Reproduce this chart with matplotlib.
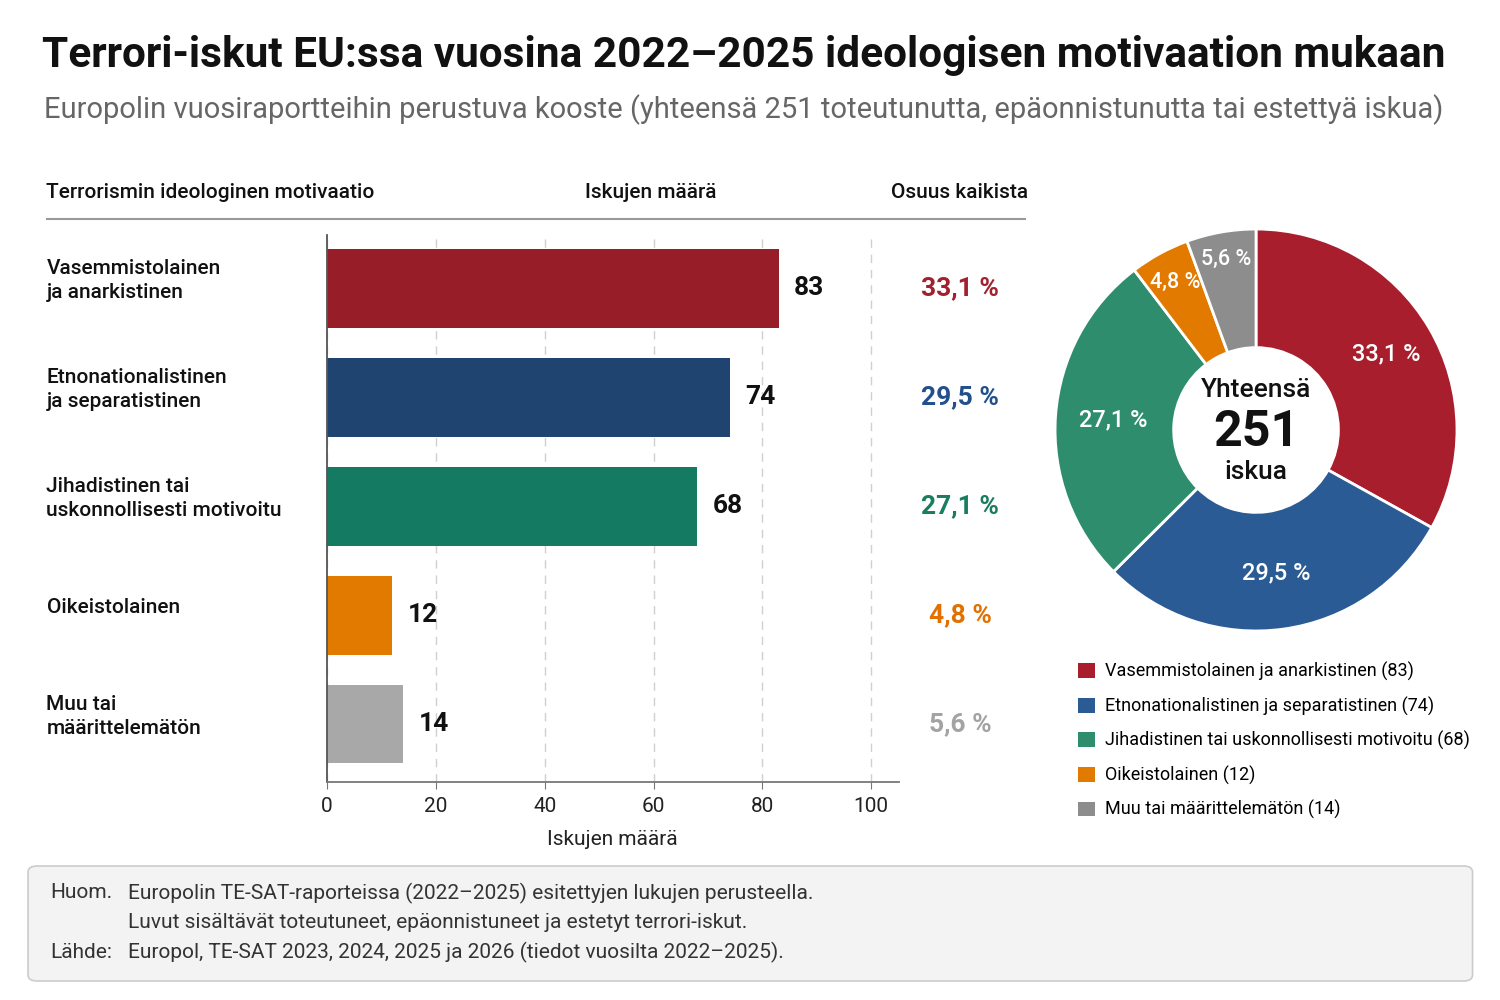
import matplotlib
matplotlib.use('Agg')
import matplotlib.pyplot as plt
import matplotlib.transforms as mtransforms
from matplotlib.patches import FancyBboxPatch, Patch
from matplotlib.lines import Line2D
import numpy as np

plt.rcParams['font.family'] = ['Roboto', 'DejaVu Sans']

# data
categories = ['Vasemmistolainen\nja anarkistinen',
               'Etnonationalistinen\nja separatistinen',
               'Jihadistinen tai\nuskonnollisesti motivoitu',
               'Oikeistolainen',
               'Muu tai\nmäärittelemätön']
legend_names = ['Vasemmistolainen ja anarkistinen',
                'Etnonationalistinen ja separatistinen',
                'Jihadistinen tai uskonnollisesti motivoitu',
                'Oikeistolainen',
                'Muu tai määrittelemätön']
counts = [83, 74, 68, 12, 14]
shares = ['33,1 %', '29,5 %', '27,1 %', '4,8 %', '5,6 %']
total = 251
x_ticks = [0, 20, 40, 60, 80, 100]

bar_colors = ['#971d28', '#1e446f', '#157a62', '#e27a00', '#a8a8a8']
pie_colors = ['#a81e2d', '#2b5b94', '#2e8d6d', '#e27a00', '#8d8d8d']
share_colors = ['#a3202e', '#22508c', '#1a7d5f', '#e27000', '#a3a3a3']

fig = plt.figure(figsize=(15, 10), dpi=100)
fig.patch.set_facecolor('white')

# title + subtitle
fig.text(0.028, 0.944, 'Terrori-iskut EU:ssa vuosina 2022–2025 ideologisen motivaation mukaan',
         fontsize=30.5, fontweight='bold', va='center', ha='left', color='#111111')
fig.text(0.029, 0.890, 'Europolin vuosiraportteihin perustuva kooste (yhteensä 251 toteutunutta, '
         'epäonnistunutta tai estettyä iskua)', fontsize=21, va='center', ha='left', color='#666666')

# header row
fig.text(0.031, 0.807, 'Terrorismin ideologinen motivaatio', fontsize=15, fontweight='medium',
         va='center', color='#111111')
fig.text(0.434, 0.807, 'Iskujen määrä', fontsize=15, fontweight='medium', va='center',
         ha='center', color='#111111')
fig.text(0.640, 0.807, 'Osuus kaikista', fontsize=15, fontweight='medium', va='center',
         ha='center', color='#111111')
fig.add_artist(Line2D([0.031, 0.683], [0.781, 0.781], color='#999999', lw=1.5))

# bar chart
ax = fig.add_axes([0.218, 0.218, 0.381, 0.547])
y = np.arange(len(counts))
ax.barh(y, counts, height=0.72, color=bar_colors)
ax.set_xlim(0, 105)
ax.set_ylim(4.53, -0.49)
ax.set_xticks(x_ticks)
ax.set_yticks([])
ax.tick_params(axis='x', labelsize=15, length=5, color='#777777', labelcolor='#222222', pad=6)
ax.xaxis.grid(True, linestyle=(0, (6, 5)), color='#d0d0d0', lw=1)
ax.set_axisbelow(True)
for s in ['top', 'right']:
    ax.spines[s].set_visible(False)
ax.spines['left'].set_color('#555555')
ax.spines['bottom'].set_color('#777777')
ax.spines['left'].set_linewidth(1.3)
ax.spines['bottom'].set_linewidth(1.3)
ax.set_xlabel('Iskujen määrä', fontsize=15, labelpad=10, color='#222222')

trans = mtransforms.blended_transform_factory(fig.transFigure, ax.transData)
for i, (cat, c, sh, col) in enumerate(zip(categories, counts, shares, share_colors)):
    ax.text(0.031, i - 0.07, cat, transform=trans, fontsize=15, fontweight='medium',
            va='center', ha='left', color='#111111', linespacing=1.35)
    ax.annotate(str(c), (c, i), xytext=(11, 0), textcoords='offset points',
                fontsize=19, fontweight='bold', va='center', ha='left', color='#111111')
    ax.text(0.640, i, sh, transform=trans, fontsize=19, fontweight='bold',
            va='center', ha='center', color=col)

# donut
pax = fig.add_axes([0.7007, 0.365, 0.2733, 0.41])
wedges, _ = pax.pie(counts, colors=pie_colors, startangle=90, counterclock=False,
                    radius=1.0, wedgeprops=dict(width=0.59, edgecolor='white', linewidth=2))
pax.set_xlim(-1.02, 1.02)
pax.set_ylim(-1.02, 1.02)
pax.set_aspect('equal')
label_dist = [0.75, 0.72, 0.71, 0.84, 0.86]
label_size = [17, 17, 17, 15.5, 15.5]
for w, sh, d, fs in zip(wedges, shares, label_dist, label_size):
    ang = np.deg2rad((w.theta1 + w.theta2) / 2)
    pax.text(d * np.cos(ang), d * np.sin(ang), sh, fontsize=fs, fontweight='medium',
             color='white', ha='center', va='center')
pax.text(0, 0.2, 'Yhteensä', fontsize=19, fontweight='medium', ha='center', va='center', color='#111111')
pax.text(0, -0.01, str(total), fontsize=36, fontweight='bold', ha='center', va='center', color='#111111')
pax.text(0, -0.21, 'iskua', fontsize=19, fontweight='medium', ha='center', va='center', color='#111111')

handles = [Patch(facecolor=c, edgecolor='none') for c in pie_colors]
labels = [f'{n} ({c})' for n, c in zip(legend_names, counts)]
fig.legend(handles, labels, loc='upper left', bbox_to_anchor=(0.708, 0.354), frameon=False,
           handlelength=0.9, handleheight=0.9, handletextpad=0.6, labelspacing=0.85,
           prop={'family': ['Roboto', 'DejaVu Sans'], 'size': 13})

# footer box
box = FancyBboxPatch((0.0187, 0.019), 0.963, 0.115, transform=fig.transFigure,
                     boxstyle='round,pad=0,rounding_size=0.006', facecolor='#f3f3f3',
                     edgecolor='#cccccc', lw=1.2)
fig.add_artist(box)
fig.text(0.0333, 0.107, 'Huom.', fontsize=15, va='center', color='#333333')
fig.text(0.0853, 0.107, 'Europolin TE-SAT-raporteissa (2022–2025) esitettyjen lukujen perusteella.',
         fontsize=15, va='center', color='#333333')
fig.text(0.0853, 0.078, 'Luvut sisältävät toteutuneet, epäonnistuneet ja estetyt terrori-iskut.',
         fontsize=15, va='center', color='#333333')
fig.text(0.0333, 0.048, 'Lähde:', fontsize=15, va='center', color='#333333')
fig.text(0.0853, 0.048, 'Europol, TE-SAT 2023, 2024, 2025 ja 2026 (tiedot vuosilta 2022–2025).',
         fontsize=15, va='center', color='#333333')

fig.savefig('out.png', dpi=100)
